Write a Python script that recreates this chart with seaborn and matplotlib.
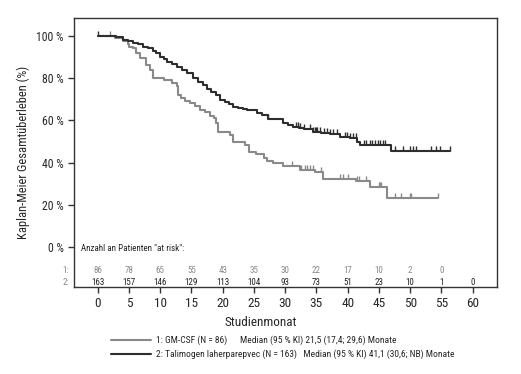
import numpy as np
import pandas as pd
import matplotlib
matplotlib.use("Agg")
import matplotlib.pyplot as plt
import matplotlib.font_manager as fm
from matplotlib.path import Path
from matplotlib.lines import Line2D
import seaborn as sns

# ---------------- data ----------------
# Group 1: GM-CSF (step times in months, survival % after step)
gm_t = [0, 2.8, 4.0, 4.8, 5.0, 5.6, 6.2, 6.8, 7.8, 8.3, 8.8, 10.6, 11.9, 12.7, 12.9, 13.3,
        14.0, 14.8, 15.6, 16.4, 17.2, 18.0, 18.6, 19.0, 19.3, 21.2, 21.6, 23.6, 24.2, 25.3,
        26.6, 27.1, 28.0, 29.7, 32.4, 34.8, 36.1, 41.3, 43.6, 46.3]
gm_s = [100, 98.8, 97.5, 96.3, 94.8, 94.0, 91.7, 89.3, 86.0, 83.8, 79.8, 79.0, 77.5, 76.3, 72.0, 70.5,
        69.0, 68.0, 66.6, 64.8, 63.9, 62.0, 61.0, 58.7, 54.6, 53.0, 49.8, 48.3, 45.1, 44.0,
        42.0, 40.7, 39.6, 38.5, 36.4, 35.3, 32.2, 31.4, 28.5, 23.0]
gm_end = 54.5
gm_cens = [2.0, 31.1, 32.6, 33.1, 33.5, 34.0, 34.4, 35.8, 38.8, 39.3, 40.1, 41.5, 41.8, 42.9,
           45.0, 45.2, 45.4, 47.6, 48.5, 49.9, 50.1, 54.5]

# Group 2: Talimogen laherparepvec
tv_t = [0, 3.0, 4.0, 4.8, 5.6, 6.4, 7.2, 8.0, 8.8, 9.4, 10.0, 10.6, 11.1, 11.9, 12.7, 13.5,
        14.3, 15.2, 16.0, 16.8, 17.5, 18.2, 19.0, 19.6, 20.3, 21.0, 21.6, 22.5, 23.2, 23.9,
        25.5, 26.3, 27.2, 29.7, 30.5, 31.3, 32.2, 33.0, 34.4, 35.8, 37.2, 38.8, 40.4, 41.5,
        42.0, 46.9]
tv_s = [100, 99.4, 98.0, 97.6, 96.7, 96.2, 94.8, 94.2, 92.9, 91.8, 90.0, 88.9, 87.7, 86.6, 85.3, 83.8,
        82.6, 79.8, 78.2, 76.6, 75.0, 73.5, 72.0, 69.6, 68.7, 67.6, 66.4, 65.6, 65.2, 64.8,
        63.5, 62.5, 60.4, 58.5, 57.8, 56.9, 56.3, 55.7, 54.3, 53.8, 53.3, 52.2, 51.7, 49.8,
        48.3, 45.4]
tv_end = 56.4
tv_cens = [0.0, 27.3, 31.8, 32.1, 32.3, 33.0, 34.0, 34.4, 34.7, 34.9, 35.1, 35.6, 36.2, 36.7,
           37.2, 37.7, 38.3, 39.6, 39.9, 40.4, 40.9, 41.4, 42.6, 43.0, 43.5, 43.9, 44.4, 44.8,
           45.2, 45.6, 46.0, 47.6, 48.8, 50.0, 50.4, 50.9, 53.4, 54.1, 54.8, 56.4]

risk_months = [0, 5, 10, 15, 20, 25, 30, 35, 40, 45, 50, 55, 60]
risk_gm = [86, 78, 65, 55, 43, 35, 30, 22, 17, 10, 2, 0]
risk_tv = [163, 157, 146, 129, 113, 104, 93, 73, 51, 23, 10, 1, 0]

labels = ["1: GM-CSF (N = 86)      Median (95 % KI) 21,5 (17,4; 29,6) Monate",
          "2: Talimogen laherparepvec (N = 163)   Median (95 % KI) 41,1 (30,6; NB) Monate"]
x_ticks = [0, 5, 10, 15, 20, 25, 30, 35, 40, 45, 50, 55, 60]
y_ticks = [0, 20, 40, 60, 80, 100]

# ---------------- style ----------------
sns.set_style("white")
avail = {f.name for f in fm.fontManager.ttflist}
fam = next(f for f in ["Liberation Sans Narrow", "Roboto Condensed", "Liberation Sans", "DejaVu Sans"] if f in avail)
plt.rcParams["font.family"] = [fam, "DejaVu Sans"]

C_GM = "#8a8a8a"
C_TV = "#2e2e2e"

W, H = 521, 374
fig = plt.figure(figsize=(W / 100, H / 100), dpi=100)
ax_l, ax_r, ax_t, ax_b = 74, 497, 18, 287
ax = fig.add_axes([ax_l / W, 1 - ax_b / H, (ax_r - ax_l) / W, (ax_b - ax_t) / H])

def steps(t, s, end, name):
    return pd.DataFrame({"month": list(t) + [end], "surv": list(s) + [s[-1]], "group": name})

df = pd.concat([steps(gm_t, gm_s, gm_end, "gm"), steps(tv_t, tv_s, tv_end, "tv")], ignore_index=True)
sns.lineplot(data=df, x="month", y="surv", hue="group", palette={"gm": C_GM, "tv": C_TV},
             drawstyle="steps-post", estimator=None, sort=False, legend=False, linewidth=1.5, ax=ax)

tick_marker = Path([(0, 0), (0, 1)], [Path.MOVETO, Path.LINETO])

def cens_df(t, s, c):
    t = np.asarray(t); s = np.asarray(s); c = np.asarray(c)
    idx = np.searchsorted(t, c, side="right") - 1
    return pd.DataFrame({"month": c, "surv": s[idx]})

for t, s, c, col in [(gm_t, gm_s, gm_cens, C_GM), (tv_t, tv_s, tv_cens, C_TV)]:
    cd = cens_df(t, s, c)
    sns.scatterplot(data=cd, x="month", y="surv", marker=tick_marker, s=52, color=col,
                    edgecolor=col, linewidth=1.0, ax=ax, legend=False)

ax.set_xlim(-3.8, 63.9)
ax.set_ylim(-18.9, 108.4)
ax.set_xticks(x_ticks)
ax.set_xticklabels([str(v) for v in x_ticks], fontsize=9.5)
ax.set_yticks(y_ticks)
ax.set_yticklabels([f"{v} %" for v in y_ticks], fontsize=8.5)
ax.tick_params(axis="both", direction="out", length=4.5, width=1.0, color="#333333",
               bottom=True, left=True, pad=3)
for sp in ax.spines.values():
    sp.set_color("#333333")
    sp.set_linewidth(1.0)

ax.set_xlabel("Studienmonat", fontsize=9.5, va="center", ha="center")
ax.xaxis.set_label_coords((W / 2 - ax_l) / (ax_r - ax_l), -(322 - ax_b) / (ax_b - ax_t))
ax.set_ylabel("Kaplan-Meier Gesamtüberleben (%)", fontsize=9, va="center", ha="center")
ax.yaxis.set_label_coords(-(ax_l - 23) / (ax_r - ax_l), (ax_b - 152) / (ax_b - ax_t))

# at-risk table
ax.text(-2.7, -0.5, 'Anzahl an Patienten "at risk":', fontsize=6.5, va="center", ha="left", color="#222222")
y1, y2 = -11.2, -16.6
for m, n in zip(risk_months, risk_gm):
    ax.text(m, y1, str(n), fontsize=6.5, ha="center", va="center", color="#8a8a8a")
for m, n in zip(risk_months, risk_tv):
    ax.text(m, y2, str(n), fontsize=6.5, ha="center", va="center", color="#222222")
ax.text(-4.6, y1, "1:", fontsize=6.5, ha="right", va="center", color="#8a8a8a", clip_on=False)
ax.text(-4.6, y2, "2:", fontsize=6.5, ha="right", va="center", color="#8a8a8a", clip_on=False)

handles = [Line2D([], [], color=C_GM, lw=1.5), Line2D([], [], color=C_TV, lw=1.5)]
fig.legend(handles, labels, loc="center left", bbox_to_anchor=(111 / W, 1 - 347.5 / H),
           frameon=False, fontsize=6.8, handlelength=4.2, handletextpad=0.6,
           borderpad=0, borderaxespad=0, labelspacing=0.45)

fig.savefig("out.png", dpi=100)
